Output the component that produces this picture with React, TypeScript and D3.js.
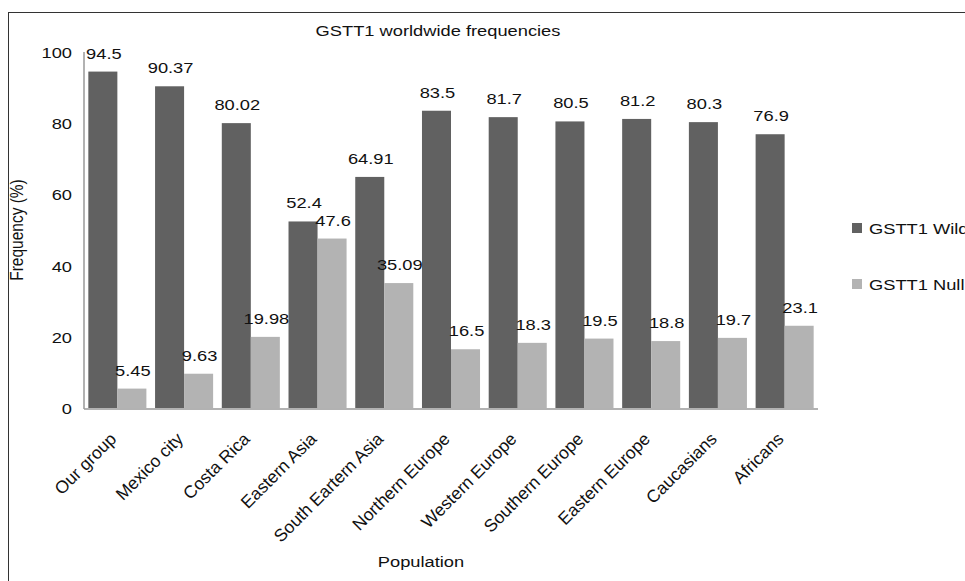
import { useEffect, useRef } from 'react';
import * as d3 from 'd3';

const populations = [
  'Our group',
  'Mexico city',
  'Costa Rica',
  'Eastern Asia',
  'South Eartern Asia',
  'Northern Europe',
  'Western Europe',
  'Southern Europe',
  'Eastern Europe',
  'Caucasians',
  'Africans',
];
const wildValues = [94.5, 90.37, 80.02, 52.4, 64.91, 83.5, 81.7, 80.5, 81.2, 80.3, 76.9];
const nullValues = [5.45, 9.63, 19.98, 47.6, 35.09, 16.5, 18.3, 19.5, 18.8, 19.7, 23.1];
const seriesNames = ['GSTT1 Wild', 'GSTT1 Null'];
const seriesColors = ['#616161', '#b3b3b3'];
const yTicks = [0, 20, 40, 60, 80, 100];

const FONT = 'Arial, "Liberation Sans", sans-serif';
const FS = 15.5;
// the source picture is stretched a little horizontally, so is its text
const SX = 1.18;

export default function App() {
  const svgRef = useRef<SVGSVGElement | null>(null);

  useEffect(() => {
    if (!svgRef.current) return;
    const width = 965;
    const height = 581;
    const svg = d3.select(svgRef.current).attr('width', width).attr('height', height);
    svg.selectAll('*').remove();

    const label = (
      parent: d3.Selection<any, any, any, any>,
      x: number,
      y: number,
      txt: string,
      anchor = 'start',
      rot = 0
    ) =>
      parent
        .append('text')
        .attr('transform', `translate(${x},${y}) scale(${SX},1)${rot ? ` rotate(${rot})` : ''}`)
        .attr('text-anchor', anchor)
        .attr('font-family', FONT)
        .attr('font-size', FS)
        .attr('fill', '#111')
        .text(txt);

    // outer frame (cut off at right and bottom)
    svg
      .append('rect')
      .attr('x', 8.5)
      .attr('y', 12.5)
      .attr('width', 1000)
      .attr('height', 620)
      .attr('fill', 'white')
      .attr('stroke', '#333')
      .attr('stroke-width', 1);

    const left = 84;
    const right = 818;
    const top = 52;
    const bottom = 408;

    const x0 = d3.scaleBand<string>().domain(populations).range([left, right]).paddingInner(0.13).paddingOuter(0.065);
    const x1 = d3.scaleBand<number>().domain([0, 1]).range([0, x0.bandwidth()]);
    const y = d3.scaleLinear().domain([0, 100]).range([bottom, top]);

    // title
    label(svg, 438, 36, 'GSTT1 worldwide frequencies', 'middle');

    // y tick labels
    const yl = svg.append('g');
    yTicks.forEach((t) => label(yl, left - 12, y(t) + 6, String(t), 'end'));

    const series = [wildValues, nullValues];

    // bars
    const barG = svg.append('g');
    series.forEach((vals, s) => {
      barG
        .selectAll(`rect.s${s}`)
        .data(populations)
        .enter()
        .append('rect')
        .attr('class', `s${s}`)
        .attr('x', (d) => x0(d)! + x1(s)!)
        .attr('width', x1.bandwidth())
        .attr('y', (_, i) => y(vals[i]))
        .attr('height', (_, i) => bottom - y(vals[i]))
        .attr('fill', seriesColors[s]);
    });

    // value labels
    const valG = svg.append('g');
    series.forEach((vals, s) => {
      populations.forEach((p, i) => {
        label(valG, x0(p)! + x1(s)! + x1.bandwidth() / 2 + 1, y(vals[i]) - 13, String(vals[i]), 'middle');
      });
    });

    // axis lines
    svg
      .append('line')
      .attr('x1', left)
      .attr('x2', left)
      .attr('y1', top)
      .attr('y2', bottom + 1)
      .attr('stroke', '#999')
      .attr('stroke-width', 1.5);
    svg
      .append('line')
      .attr('x1', left)
      .attr('x2', right)
      .attr('y1', bottom + 1)
      .attr('y2', bottom + 1)
      .attr('stroke', '#999')
      .attr('stroke-width', 1.5);

    // category labels, plain 45 degrees
    svg
      .append('g')
      .selectAll('text')
      .data(populations)
      .enter()
      .append('text')
      .attr('transform', (d) => `translate(${x0(d)! + x0.bandwidth() / 2},${bottom + 32}) rotate(-45)`)
      .attr('text-anchor', 'end')
      .attr('font-family', FONT)
      .attr('font-size', 17.5)
      .attr('fill', '#111')
      .text((d) => d);

    // axis titles
    label(svg, 421, 567, 'Population', 'middle');
    label(svg, 23, (top + bottom) / 2, 'Frequency (%)', 'middle', -90);

    // legend
    const legend = svg
      .append('g')
      .selectAll('g')
      .data(seriesNames)
      .enter()
      .append('g')
      .attr('transform', (_, i) => `translate(852,${223 + i * 56})`);
    legend
      .append('rect')
      .attr('width', 10)
      .attr('height', 10)
      .attr('fill', (_, i) => seriesColors[i]);
    legend.each(function (d) {
      label(d3.select(this), 17, 11, d);
    });
  }, []);

  return <svg ref={svgRef} style={{ position: 'absolute', left: 0, top: 0, display: 'block' }} />;
}
